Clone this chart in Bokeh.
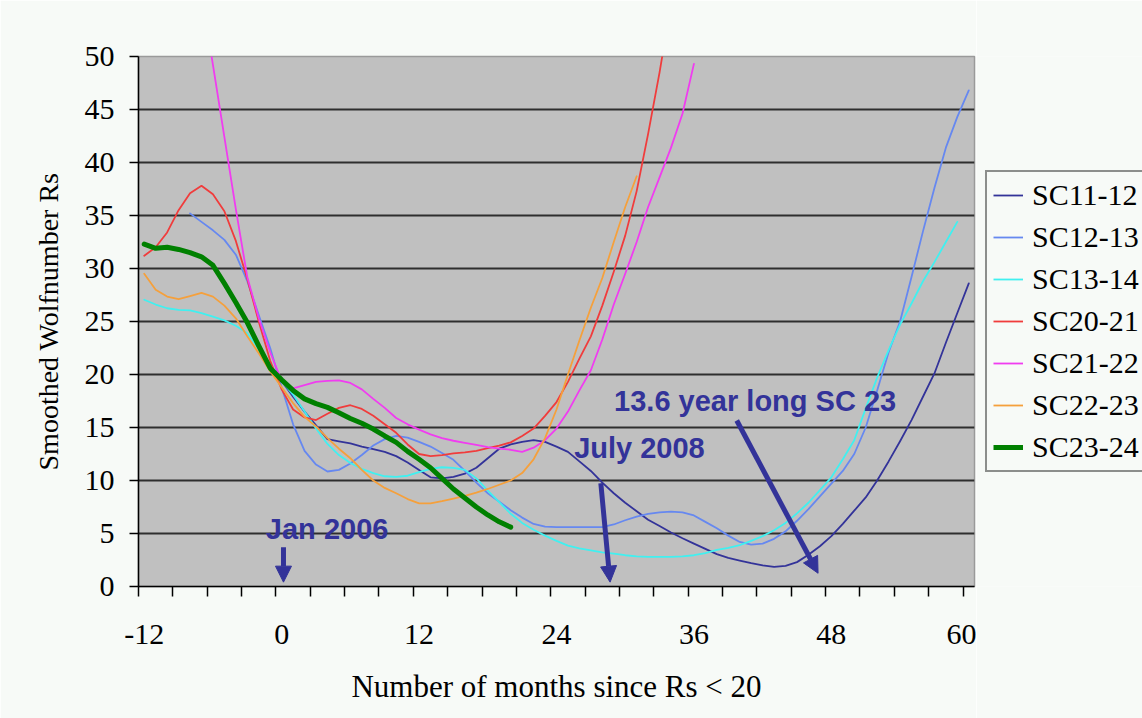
from bokeh.plotting import figure
from bokeh.layouts import row
from bokeh.models import (FixedTicker, Legend, LegendItem, Arrow, NormalHead,
                          Label, Range1d)
from bokeh.embed import file_html
from bokeh.resources import INLINE

# ---------------- data ----------------
sc11_12_x = list(range(-1, 61))
sc11_12_y = [20.8, 19.4, 17.9, 16.5, 15.2, 13.9, 13.7, 13.5, 13.2, 12.95,
             12.7, 12.3, 11.7, 11.0, 10.3, 10.2, 10.35, 10.65, 11.2, 12.1,
             13.0, 13.4, 13.65, 13.8, 13.65, 13.2, 12.7, 11.8, 10.9, 9.8,
             8.8, 7.9, 7.1, 6.3, 5.7, 5.1, 4.55, 4.05, 3.55, 3.05,
             2.7, 2.45, 2.2, 2.0, 1.85, 1.95, 2.3, 3.0, 3.8, 4.75,
             5.9, 7.15, 8.4, 10.0, 11.8, 13.7, 15.7, 17.9, 20.1, 23.0,
             25.8, 28.6]

sc12_13_x = list(range(-8, 61))
sc12_13_y = [35.2, 34.4, 33.6, 32.7, 31.3, 28.8, 25.6, 22.5, 18.8, 15.3,
             12.8, 11.5, 10.85, 11.0, 11.6, 12.4, 13.3, 13.9, 14.2, 14.05,
             13.65, 13.2, 12.6, 11.95, 10.9, 9.8, 8.8, 8.0, 7.2, 6.5,
             5.9, 5.65, 5.6, 5.6, 5.6, 5.6, 5.6, 5.85, 6.25, 6.6,
             6.85, 7.0, 7.07, 7.0, 6.7, 6.1, 5.5, 4.8, 4.2, 3.95,
             4.05, 4.5, 5.2, 6.2, 7.3, 8.5, 9.7, 10.9, 12.5, 15.0,
             18.5, 22.1, 25.0, 29.2, 33.5, 37.6, 41.4, 44.3, 46.8]

sc13_14_x = list(range(-12, 60))
sc13_14_y = [27.05, 26.6, 26.25, 26.1, 26.05, 25.8, 25.45, 25.1, 24.6, 23.9,
             22.4, 20.8, 19.4, 18.1, 16.5, 14.9, 13.45, 12.4, 11.65, 11.1,
             10.7, 10.4, 10.35, 10.45, 10.8, 11.1, 11.25, 11.2, 11.0, 10.2,
             9.05, 7.95, 6.86, 6.0, 5.35, 4.8, 4.3, 3.85, 3.6, 3.4,
             3.22, 3.1, 2.95, 2.85, 2.8, 2.8, 2.8, 2.85, 2.95, 3.15,
             3.45, 3.65, 3.9, 4.3, 4.75, 5.3, 6.0, 6.9, 7.9, 9.1,
             10.3, 12.0, 13.8, 16.8, 19.7, 22.3, 24.7, 26.7, 28.8, 30.6,
             32.5, 34.4]

sc20_21_x = list(range(-12, 35))
sc20_21_y = [31.2, 32.0, 33.4, 35.5, 37.1, 37.8, 37.0, 35.4, 32.6, 29.0,
             25.0, 21.3, 18.6, 16.7, 15.95, 15.7, 16.3, 16.85, 17.1, 16.75,
             16.1, 15.3, 14.5, 13.4, 12.5, 12.3, 12.4, 12.55, 12.65, 12.8,
             13.05, 13.3, 13.6, 14.2, 14.9, 16.1, 17.4, 19.3, 21.5, 23.6,
             26.5, 29.7, 33.1, 37.3, 42.7, 48.5, 55.0]

sc21_22_x = list(range(-7, 37))
sc21_22_y = [56.0, 49.2, 42.4, 35.6, 29.2, 25.3, 22.1, 19.4, 18.7, 19.0,
             19.3, 19.4, 19.45, 19.2, 18.6, 17.7, 16.85, 15.9, 15.3, 14.8,
             14.35, 14.0, 13.75, 13.55, 13.35, 13.15, 13.0, 12.9, 12.7, 13.1,
             13.8, 14.9, 16.5, 18.5, 20.4, 23.3, 26.6, 29.5, 32.5, 35.8,
             38.6, 41.4, 44.6, 49.3]

sc22_23_x = list(range(-12, 32))
sc22_23_y = [29.5, 28.0, 27.35, 27.1, 27.4, 27.7, 27.35, 26.5, 25.3, 23.6,
             22.0, 20.3, 18.8, 17.3, 16.0, 15.1, 14.0, 13.0, 12.1, 11.0,
             10.0, 9.3, 8.8, 8.25, 7.85, 7.85, 8.05, 8.3, 8.55, 8.85,
             9.2, 9.6, 10.0, 10.7, 12.0, 14.0, 16.7, 20.0, 23.2, 26.3,
             29.1, 32.5, 35.8, 38.7]

sc23_24_x = list(range(-12, 21))
sc23_24_y = [32.3, 31.9, 32.0, 31.8, 31.5, 31.1, 30.3, 28.6, 26.8, 24.9,
             22.7, 20.6, 19.5, 18.5, 17.7, 17.25, 16.9, 16.4, 15.85, 15.4,
             14.85, 14.2, 13.6, 12.75, 12.0, 11.2, 10.2, 9.2, 8.35, 7.5,
             6.75, 6.1, 5.6]

series_names = ["SC11-12", "SC12-13", "SC13-14", "SC20-21", "SC21-22", "SC22-23", "SC23-24"]
series_x = [sc11_12_x, sc12_13_x, sc13_14_x, sc20_21_x, sc21_22_x, sc22_23_x, sc23_24_x]
series_y = [sc11_12_y, sc12_13_y, sc13_14_y, sc20_21_y, sc21_22_y, sc22_23_y, sc23_24_y]
series_colors = ["#333399", "#6688f0", "#40f0f0", "#f03c3c", "#f03cf0", "#f5a03c", "#008000"]
series_widths = [1.8, 1.8, 1.8, 1.8, 1.8, 1.8, 5]

x_label_ticks = [-12, 0, 12, 24, 36, 48, 60]
x_label_texts = ["-12", "0", "12", "24", "36", "48", "60"]
x_minor_ticks = [-12.5 + 3 * k for k in range(25)]
y_ticks = list(range(0, 51, 5))
grid_ticks = list(range(5, 50, 5))

# annotations (data coordinates)
ann_texts = ["Jan 2006", "July 2008", "13.6 year long SC 23"]
ann_x = [-1.38, 25.54, 29.03]
ann_y = [5.44, 13.05, 17.52]
arrow_x0 = [0.16, 27.87, 39.74]
arrow_y0 = [3.71, 9.75, 15.66]
arrow_x1 = [0.16, 28.68, 46.84]
arrow_y1 = [0.41, 0.41, 1.25]

ANN = "#333399"
BG = "#f7faf7"

# ---------------- main figure ----------------
p = figure(width=976, height=718, output_backend="svg", toolbar_location=None,
           x_range=Range1d(-12.5, 60.5), y_range=Range1d(0, 50),
           min_border_left=138, min_border_right=2,
           min_border_top=56, min_border_bottom=132)
p.background_fill_color = "#c0c0c0"
p.border_fill_color = BG
p.outline_line_color = "#9a9a9a"
p.outline_line_width = 1.5

p.xgrid.visible = False
p.ygrid.ticker = FixedTicker(ticks=grid_ticks)
p.ygrid.grid_line_color = "#2e2e2e"
p.ygrid.grid_line_width = 2

xa = p.xaxis[0]
xa.ticker = FixedTicker(ticks=x_label_ticks, minor_ticks=x_minor_ticks)
xa.major_label_overrides = dict(zip(x_label_ticks, x_label_texts))
xa.major_tick_out = 0
xa.major_tick_in = 0
xa.minor_tick_out = 10
xa.minor_tick_in = 0
xa.minor_tick_line_color = "black"
xa.minor_tick_line_width = 1.5
xa.axis_line_color = "black"
xa.axis_line_width = 1.5
xa.major_label_standoff = 28
xa.major_label_text_font = "Liberation Serif"
xa.major_label_text_font_size = "30px"
xa.major_label_text_color = "black"
xa.axis_label = "Number of months since Rs < 20"
xa.axis_label_text_font = "Liberation Serif"
xa.axis_label_text_font_size = "31px"
xa.axis_label_text_font_style = "normal"
xa.axis_label_text_color = "black"
xa.axis_label_standoff = 22

ya = p.yaxis[0]
ya.ticker = FixedTicker(ticks=y_ticks)
ya.major_tick_out = 9
ya.major_tick_in = 0
ya.major_tick_line_color = "black"
ya.major_tick_line_width = 1.5
ya.minor_tick_line_color = None
ya.axis_line_color = "black"
ya.axis_line_width = 1.5
ya.major_label_standoff = 15
ya.major_label_text_font = "Liberation Serif"
ya.major_label_text_font_size = "30px"
ya.major_label_text_color = "black"
ya.axis_label = "Smoothed Wolfnumber Rs"
ya.axis_label_text_font = "Liberation Serif"
ya.axis_label_text_font_size = "28px"
ya.axis_label_text_font_style = "normal"
ya.axis_label_text_color = "black"
ya.axis_label_standoff = 18

for xs, ys, c, w in zip(series_x, series_y, series_colors, series_widths):
    p.line(xs, ys, line_color=c, line_width=w, line_join="round", line_cap="round")

for t, x, y in zip(ann_texts, ann_x, ann_y):
    p.add_layout(Label(x=x, y=y, text=t, text_font="Liberation Sans", text_font_style="bold",
                       text_font_size="29px", text_color=ANN, text_baseline="alphabetic",
                       text_align="left"))

for x0, y0, x1, y1 in zip(arrow_x0, arrow_y0, arrow_x1, arrow_y1):
    p.add_layout(Arrow(x_start=x0, y_start=y0, x_end=x1, y_end=y1,
                       line_color=ANN, line_width=5,
                       end=NormalHead(size=16, fill_color=ANN, line_color=ANN, line_width=1)))

# ---------------- legend panel (right of the chart) ----------------
# the same series are drawn here, but the ranges keep them out of view;
# only their legend entries are shown
q = figure(width=166, height=718, output_backend="svg", toolbar_location=None,
           x_range=Range1d(1000, 1001), y_range=Range1d(1000, 1001),
           x_axis_type=None, y_axis_type=None,
           min_border_left=0, min_border_right=0, min_border_top=0, min_border_bottom=0)
q.grid.visible = False
q.outline_line_color = None
q.background_fill_color = BG
q.border_fill_color = BG

items = []
for name, xs, ys, c, w in zip(series_names, series_x, series_y, series_colors, series_widths):
    r = q.line(xs, ys, line_color=c, line_width=w)
    items.append(LegendItem(label=name, renderers=[r]))

legend = Legend(items=items, location=(9, 114))
legend.border_line_color = "#222222"
legend.border_line_width = 2
legend.background_fill_color = BG
legend.background_fill_alpha = 1
legend.label_text_font = "Liberation Serif"
legend.label_text_font_size = "30px"
legend.label_text_color = "black"
legend.glyph_width = 30
legend.glyph_height = 20
legend.label_height = 34
legend.spacing = 8
legend.padding = 6
legend.margin = 0
legend.label_standoff = 9
q.add_layout(legend, "center")

layout = row(p, q, spacing=0)
open("out.html", "w").write(file_html(layout, INLINE))
